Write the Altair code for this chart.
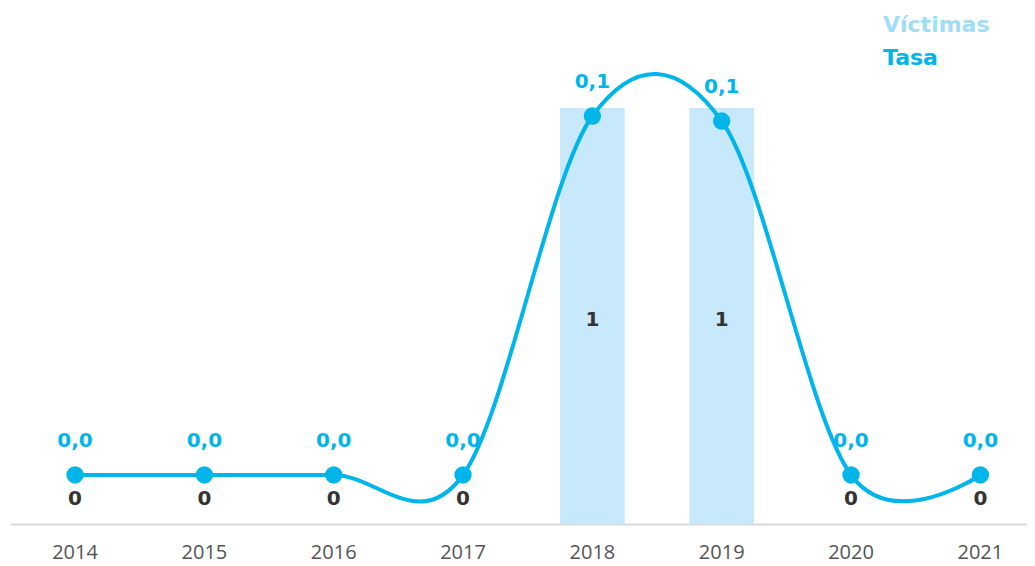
import altair as alt
import pandas as pd

years = ["2014", "2015", "2016", "2017", "2018", "2019", "2020", "2021"]
victimas = [0, 0, 0, 0, 1, 1, 0, 0]
tasa = [0.0, 0.0, 0.0, 0.0, 0.100, 0.0986, 0.0, 0.0]
leg_names = ["Víctimas", "Tasa"]

df = pd.DataFrame({"year": years, "victimas": victimas, "tasa": tasa})

FONT = "Open Sans"
BFONT = "DejaVu Sans"
LINE_C = "#00b5ea"
BAR_C = "#c8e9fb"

x = alt.X("year:N", sort=years,
          scale=alt.Scale(paddingInner=0.5, paddingOuter=0.1818, align=0.696),
          axis=alt.Axis(title=None, labelAngle=0, ticks=False, domainColor="#d9d9d9",
                        domainWidth=2, labelFontSize=20, labelColor="#555555",
                        labelFont=FONT, labelPadding=18))

yb = alt.Y("victimas:Q", scale=alt.Scale(domain=[0, 1]), axis=None)
yl_scale = alt.Scale(domain=[-0.01365, 0.10223], zero=False, nice=False)

base = alt.Chart(df)

bars = base.mark_bar(color=BAR_C).encode(x=x, y=yb)

vlab = base.transform_calculate(
    pos="datum.victimas > 0 ? datum.victimas / 2 - 0.01 : 0.06",
    txt="format(datum.victimas, 'd')"
).mark_text(font=BFONT, fontSize=20, fontWeight="bold", color="#333333", baseline="middle").encode(
    x=x, y=alt.Y("pos:Q", scale=alt.Scale(domain=[0, 1]), axis=None), text="txt:N")

bar_layer = alt.layer(bars, vlab)

line = base.mark_line(color=LINE_C, strokeWidth=4, interpolate="cardinal").encode(
    x=x, y=alt.Y("tasa:Q", scale=yl_scale, axis=None))
pts = base.mark_point(color=LINE_C, filled=True, size=300, opacity=1).encode(
    x=x, y=alt.Y("tasa:Q", scale=yl_scale, axis=None))
tlab = base.transform_calculate(
    txt="replace(format(datum.tasa, '.1f'), '.', ',')"
).mark_text(font=BFONT, fontSize=20, fontWeight="bold", color=LINE_C, dy=-34, baseline="middle").encode(
    x=x, y=alt.Y("tasa:Q", scale=yl_scale, axis=None), text="txt:N")

line_layer = alt.layer(line, pts, tlab)

leg_df = pd.DataFrame({"name": leg_names})
leg1 = alt.Chart(leg_df).transform_filter("datum.name == 'Víctimas'").mark_text(
    font=BFONT, fontSize=22, fontWeight="bold", color="#a0ddf7", align="left", baseline="middle"
).encode(x=alt.value(873), y=alt.value(-83), text="name:N")
leg2 = alt.Chart(leg_df).transform_filter("datum.name == 'Tasa'").mark_text(
    font=BFONT, fontSize=22, fontWeight="bold", color=LINE_C, align="left", baseline="middle"
).encode(x=alt.value(873), y=alt.value(-50), text="name:N")

chart = alt.layer(bar_layer, line_layer, leg1, leg2).resolve_scale(y="independent").properties(
    width=1017, height=416,
    autosize=alt.AutoSizeParams(type="none"),
    padding={"left": 2, "top": 100, "right": 0, "bottom": 44},
).configure(background="white", view=alt.ViewConfig(strokeWidth=0, stroke="transparent"))

chart.save("out.html", embed_options={"renderer": "svg", "actions": False})
